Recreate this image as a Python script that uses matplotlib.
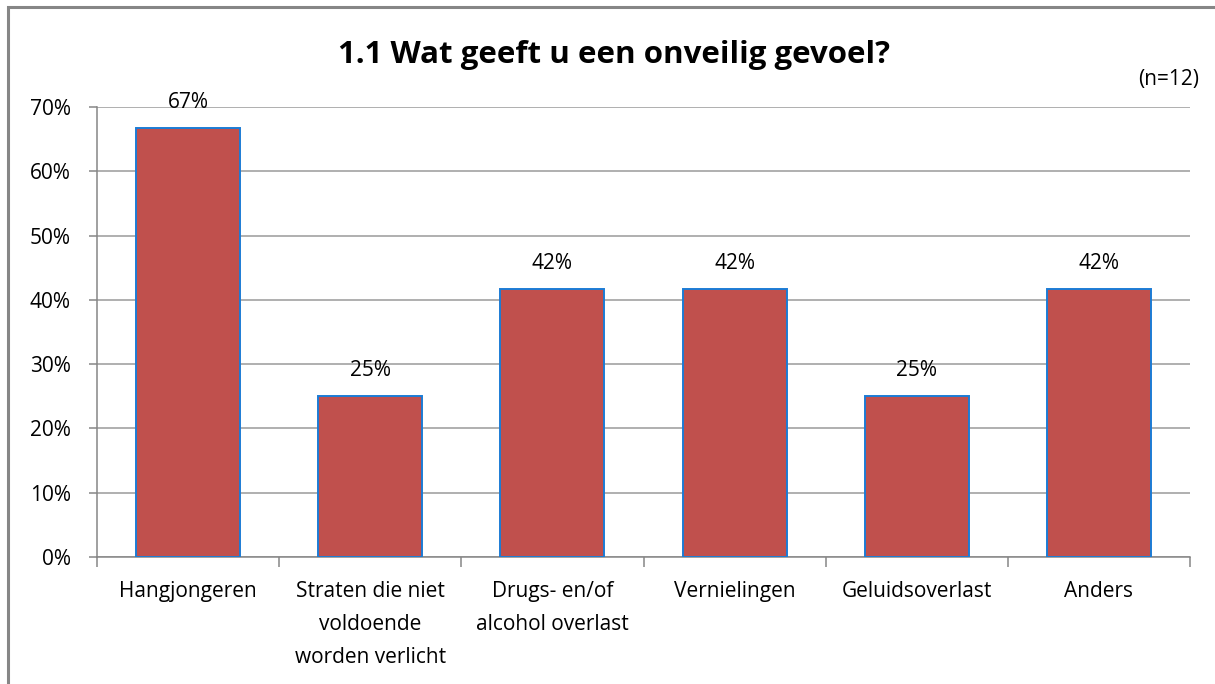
import matplotlib.pyplot as plt
import matplotlib.patches as mpatches
import numpy as np

# Data
categories = ['Hangjongeren', 'Straten die niet\nvoldoende\nworden verlicht',
              'Drugs- en/of\nalcohol overlast', 'Vernielingen',
              'Geluidsoverlast', 'Anders']
values = [8/12, 3/12, 5/12, 5/12, 3/12, 5/12]
labels = ['67%', '25%', '42%', '42%', '25%', '42%']
yticks = [0, 0.1, 0.2, 0.3, 0.4, 0.5, 0.6, 0.7]

plt.rcParams['font.family'] = ['Open Sans', 'DejaVu Sans']

fig = plt.figure(figsize=(12.15, 6.84), dpi=100)
ax = fig.add_axes([97/1215, 1-557/684, (1190-97)/1215, (557-107)/684])

# outer chart border (only left/top visible in the crop)
fig.patches.append(mpatches.Rectangle((8/1215, -0.1), 1.2, 1-7/684+0.1,
                                      transform=fig.transFigure, fill=False,
                                      edgecolor='#868686', linewidth=2.2))

x = np.arange(len(categories))
ax.bar(x, values, width=0.57, color='#C0504D', edgecolor='#1C7CD5',
       linewidth=1.4, zorder=3)
for xi, v, lab in zip(x, values, labels):
    ax.text(xi, v + 0.024, lab, ha='center', va='bottom', fontsize=15)

ax.set_xlim(-0.5, len(categories) - 0.5)
ax.set_ylim(0, 0.7)
ax.set_yticks(yticks)
ax.set_yticklabels(['%d%%' % round(t * 100) for t in yticks], fontsize=15)
ax.yaxis.grid(True, color='#9A9A9A', linewidth=1.1, zorder=0)
ax.set_axisbelow(True)

# category labels centered, tick marks at boundaries
ax.set_xticks(np.arange(-0.5, len(categories)), minor=False)
ax.set_xticklabels([])
ax.set_xticks(x, minor=True)
ax.set_xticklabels(categories, minor=True, fontsize=15, linespacing=1.75,
                   va='top')
ax.tick_params(axis='x', which='minor', length=0, pad=17)
ax.tick_params(axis='x', which='major', length=7, color='#868686', width=1.1)
ax.tick_params(axis='y', length=6, color='#868686', width=1.1, pad=13)

for s in ['top', 'right']:
    ax.spines[s].set_visible(False)
for s in ['left', 'bottom']:
    ax.spines[s].set_color('#868686')
    ax.spines[s].set_linewidth(1.1)

fig.text(614/1215, 1-63/684, '1.1 Wat geeft u een onveilig gevoel?',
         ha='center', va='baseline', fontsize=22.5, fontweight='bold')
fig.text(1199/1215, 1-80/684, '(n=12)', ha='right', va='center', fontsize=15)

fig.savefig('out.png', dpi=100)
